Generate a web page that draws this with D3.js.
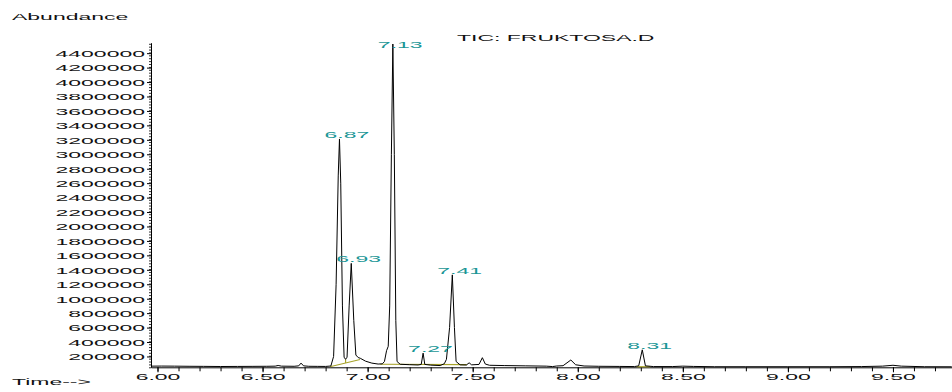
<!DOCTYPE html>
<html>
<head>
<meta charset="utf-8">
<script src="https://cdn.jsdelivr.net/npm/d3@7"></script>
<style>
  body { margin: 0; background: #fff; }
  svg { display: block; }
  text { font-family: "Liberation Sans", Arial, sans-serif; }
</style>
</head>
<body>
<svg id="chart" width="952" height="392"></svg>
<script>
// retention time (min) of the TIC trace
const traceTimes = [
  5.969, 6.02, 6.08, 6.15, 6.22, 6.30, 6.38, 6.45, 6.52, 6.56, 6.574, 6.59, 6.65, 6.672, 6.683, 6.695,
  6.72, 6.76, 6.80, 6.825, 6.838, 6.850, 6.860, 6.866, 6.872, 6.880, 6.888, 6.895, 6.902, 6.912,
  6.922, 6.934, 6.944, 6.955, 6.965, 6.99, 7.02, 7.05, 7.07, 7.08, 7.09, 7.098, 7.105, 7.113,
  7.120, 7.127, 7.134, 7.140, 7.155, 7.20, 7.24, 7.255, 7.264, 7.272, 7.30, 7.345, 7.365, 7.375,
  7.390, 7.403, 7.413, 7.421, 7.44, 7.47, 7.483, 7.495, 7.53, 7.546, 7.56, 7.58, 7.65, 7.75,
  7.85, 7.88, 7.90, 7.93, 7.967, 7.99, 8.03, 8.10, 8.20, 8.27, 8.29, 8.307, 8.322, 8.36,
  8.45, 8.50, 8.55, 8.65, 8.80, 9.00, 9.20, 9.35, 9.45, 9.50, 9.54, 9.65, 9.78
];
// abundance at each time
const traceAbundance = [
  66000, 67000, 66000, 64000, 63000, 61000, 62000, 63000, 64000, 66000, 75000, 66000, 64000, 70000, 108000, 70000,
  64000, 63000, 62000, 68000, 200000, 1200000, 2700000, 3212000, 2600000, 900000, 190000, 160000, 190000, 900000,
  1489000, 700000, 220000, 185000, 175000, 135000, 108000, 95000, 98000, 130000, 280000, 340000, 900000, 3000000,
  4527000, 3000000, 700000, 130000, 92000, 86000, 82000, 90000, 246000, 90000, 80000, 74000, 100000, 160000,
  600000, 1330000, 600000, 130000, 84000, 82000, 112000, 84000, 90000, 183000, 95000, 78000, 74000, 70000,
  66000, 60000, 68000, 72000, 151000, 85000, 68000, 64000, 62000, 60000, 70000, 292000, 70000, 60000,
  60000, 66000, 62000, 58000, 58000, 58000, 58000, 60000, 66000, 78000, 66000, 58000, 57000
];

// integration baselines [start time, start abundance, end time, end abundance]
const baselines = [
  [6.821, 58000, 6.964, 158000],
  [6.895, 160000, 6.895, 110000],
  [7.06, 92000, 7.472, 88000],
  [8.28, 58000, 8.345, 58000]
];

// labelled peaks (retention time shown)
const peakLabels = ["6.87", "6.93", "7.13", "7.27", "7.41", "8.31"];

const yTickValues = [200000, 400000, 600000, 800000, 1000000, 1200000, 1400000, 1600000, 1800000, 2000000,
  2200000, 2400000, 2600000, 2800000, 3000000, 3200000, 3400000, 3600000, 3800000, 4000000, 4200000, 4400000];
const xTickValues = [6.00, 6.50, 7.00, 7.50, 8.00, 8.50, 9.00, 9.50];

const svg = d3.select("#chart");
const sx = 2.5;          // the instrument font is drawn very wide
const fontSize = "9.2px";

const xScale = d3.scaleLinear().domain([5.969, 9.781]).range([151, 952]);
const yScale = d3.scaleLinear().domain([50000, 4545000]).range([367.3, 42.7]);

const trace = traceTimes.map((t, i) => [t, traceAbundance[i]]);

// minor ticks
const g = svg.append("g");
g.append("g")
  .attr("transform", `translate(151,0)`)
  .call(d3.axisLeft(yScale).tickValues(d3.range(50000, 4545000, 40000)).tickSize(2).tickFormat("").tickSizeOuter(0))
  .call((a) => a.select(".domain").remove())
  .selectAll("line").attr("stroke", "#333");

g.append("g")
  .attr("transform", `translate(0,367.3)`)
  .call(d3.axisBottom(xScale).tickValues(d3.range(6.0, 9.75, 0.1)).tickSize(4).tickFormat("").tickSizeOuter(0))
  .call((a) => a.select(".domain").remove());

// y axis
const yAxis = g.append("g")
  .attr("transform", `translate(151,0)`)
  .call(d3.axisLeft(yScale).tickValues(yTickValues).tickSize(4).tickSizeOuter(0).tickFormat(d3.format("d")));
yAxis.selectAll("text")
  .attr("x", -6 / sx)
  .attr("dy", "0.36em")
  .attr("transform", `scale(${sx},1)`)
  .style("font-size", fontSize)
  .attr("fill", "#111");

// x axis
const xAxis = g.append("g")
  .attr("transform", `translate(0,367.3)`)
  .call(d3.axisBottom(xScale).tickValues(xTickValues).tickSize(5).tickSizeOuter(0).tickFormat(d3.format(".2f")));
xAxis.selectAll("text")
  .attr("y", 13)
  .attr("dy", 0)
  .attr("transform", `scale(${sx},1)`)
  .style("font-size", fontSize)
  .attr("fill", "#111");

// baselines
g.selectAll(".baseline")
  .data(baselines)
  .enter()
  .append("line")
  .attr("class", "baseline")
  .attr("x1", (d) => xScale(d[0]))
  .attr("y1", (d) => yScale(d[1]))
  .attr("x2", (d) => xScale(d[2]))
  .attr("y2", (d) => yScale(d[3]))
  .attr("stroke", "#a7a32a")
  .attr("stroke-width", 1.2);

// the TIC trace
const line = d3.line()
  .x((d) => xScale(d[0]))
  .y((d) => yScale(d[1]));

g.append("path")
  .datum(trace)
  .attr("d", line)
  .attr("fill", "none")
  .attr("stroke", "#000")
  .attr("stroke-width", 1);

// peak labels, placed at the apex of the trace near each retention time
const apexOf = (rt) => {
  const near = trace.filter((d) => Math.abs(d[0] - rt) < 0.02);
  return near.reduce((a, b) => (b[1] > a[1] ? b : a));
};

g.selectAll(".peak-label")
  .data(peakLabels)
  .enter()
  .append("text")
  .attr("class", "peak-label")
  .attr("transform", (d) => {
    const apex = apexOf(+d);
    const px = xScale(apex[0]) - 15;
    const py = Math.max(yScale(apex[1]) - 1, 48);
    return `translate(${px},${py}) scale(${sx},1)`;
  })
  .style("font-size", fontSize)
  .attr("fill", "#1a9696")
  .text((d) => d);

// titles
const addText = (str, x, y) =>
  svg.append("text")
    .attr("transform", `translate(${x},${y}) scale(${sx},1)`)
    .style("font-size", fontSize)
    .attr("fill", "#111")
    .text(str);

addText("Abundance", 12, 19.5);
addText("TIC: FRUKTOSA.D", 457, 41);
addText("Time-->", 12, 385);
</script>
</body>
</html>
